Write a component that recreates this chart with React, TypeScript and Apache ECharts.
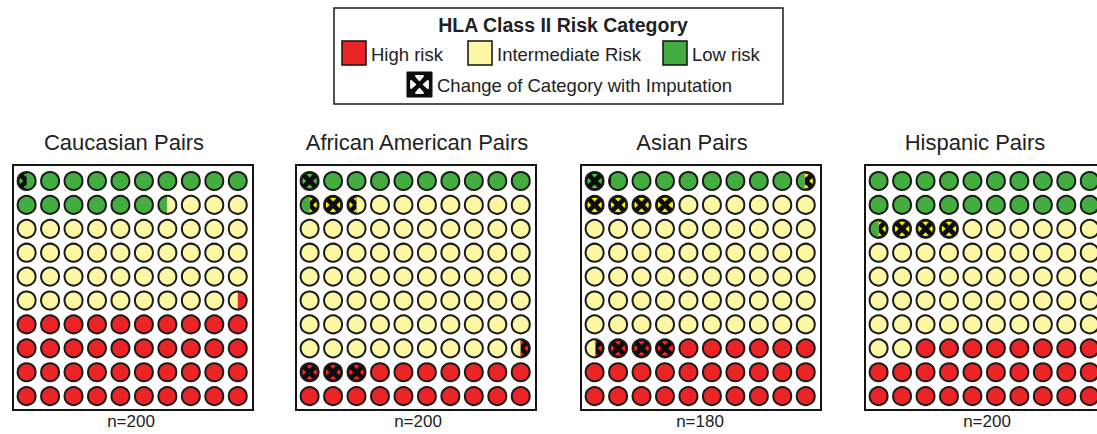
import { useEffect, useRef } from "react";
import * as echarts from "echarts";

// Risk category composition of donor–recipient pairs, one 10×10 waffle per group.
// Each circle stands for 1% of the pairs in that group.
const panelTitles = ["Caucasian Pairs", "African American Pairs", "Asian Pairs", "Hispanic Pairs"];
const pairTotals = [200, 200, 180, 200];
const lowRiskPairs = [33, 21, 17, 41];
const intermediateRiskPairs = [86, 138, 110, 103];
const highRiskPairs = [81, 41, 53, 56];
// Pairs whose category changed once imputation was applied
const lowChangedPairs = [1, 2, 2, 0];
const intermediateChangedPairs = [0, 4, 8, 7];
const highChangedPairs = [0, 7, 6, 0];

const legendTitle = "HLA Class II Risk Category";
const categoryNames = ["High risk", "Intermediate Risk", "Low risk"];
const changeLabel = "Change of Category with Imputation";

const GRID_COLS = 10;
const GRID_ROWS = 10;

// styling
const FONT = "'Liberation Sans', Arial, Helvetica, sans-serif";
const TEXT = "#222222";
const HIGH = "#ec2426";
const INTER = "#fbf7a2";
const LOW = "#44ad3f";
const HIGH_PATCH = "#ff2222";
const INTER_PATCH = "#f7ef00";
const LOW_PATCH = "#48c040";
const OUTLINE = "#1c1c1c";
const R = 9;

// layout
const panelLeft = [13, 296, 581, 865];
const panelTop = 165;
const panelWidth = 240;
const panelHeight = 245;
const titleX = [124, 417, 692, 975];
const countX = [131, 418, 700, 987];

type Pt = [number, number];

function circlePoints(r: number, n = 48): Pt[] {
  const pts: Pt[] = [];
  for (let k = 0; k < n; k++) {
    const a = (k / n) * Math.PI * 2;
    pts.push([r * Math.cos(a), r * Math.sin(a)]);
  }
  return pts;
}

function clipHalf(poly: Pt[], xb: number, keepGreater: boolean): Pt[] {
  const out: Pt[] = [];
  const inside = (p: Pt) => (keepGreater ? p[0] >= xb : p[0] <= xb);
  for (let k = 0; k < poly.length; k++) {
    const cur = poly[k];
    const prev = poly[(k + poly.length - 1) % poly.length];
    const ci = inside(cur);
    const pi = inside(prev);
    if (ci !== pi) {
      const t = (xb - prev[0]) / (cur[0] - prev[0]);
      out.push([xb, prev[1] + t * (cur[1] - prev[1])]);
    }
    if (ci) out.push(cur);
  }
  return out;
}

function clipX(poly: Pt[], x0: number, x1: number): Pt[] {
  return clipHalf(clipHalf(poly, x0, true), x1, false);
}

// four colour patches between the arms of an X, relative to the centre
function crossPatches(r: number): Pt[][] {
  const Rp = 0.8 * r;
  const d = 0.38 * r;
  const phi0 = Math.acos(d / (Rp * Math.SQRT2)) - Math.PI / 4;
  const top: Pt[] = [[0, -d]];
  const steps = 8;
  for (let s = 0; s <= steps; s++) {
    const phi = -phi0 + (2 * phi0 * s) / steps;
    top.push([Rp * Math.sin(phi), -Rp * Math.cos(phi)]);
  }
  const rot = (p: Pt, k: number): Pt => {
    let [x, y] = p;
    for (let i = 0; i < k; i++) [x, y] = [-y, x];
    return [x, y];
  };
  return [0, 1, 2, 3].map((k) => top.map((p) => rot(p, k)));
}

const CIRCLE = circlePoints(R);
const PATCHES = crossPatches(R);

function shift(poly: Pt[], cx: number, cy: number): Pt[] {
  return poly.map((p) => [p[0] + cx, p[1] + cy] as Pt);
}

function panelSegments(i: number) {
  const n = pairTotals[i];
  const pct = (v: number) => (v / n) * 100;
  const L = pct(lowRiskPairs[i]);
  const I = pct(intermediateRiskPairs[i]);
  const H = pct(highRiskPairs[i]);
  const base = [
    { from: 0, to: L, color: LOW },
    { from: L, to: L + I, color: INTER },
    { from: L + I, to: L + I + H, color: HIGH },
  ];
  const changed = [
    { from: 0, to: pct(lowChangedPairs[i]), color: LOW_PATCH },
    { from: L, to: L + pct(intermediateChangedPairs[i]), color: INTER_PATCH },
    { from: L + I, to: L + I + pct(highChangedPairs[i]), color: HIGH_PATCH },
  ];
  return { base, changed };
}

const cells: number[][] = [];
for (let row = 0; row < GRID_ROWS; row++) {
  for (let col = 0; col < GRID_COLS; col++) {
    cells.push([col, row, row * GRID_COLS + col]);
  }
}

function buildOption(): echarts.EChartsOption {
  const grids: any[] = [];
  const xAxes: any[] = [];
  const yAxes: any[] = [];
  const series: any[] = [];
  const graphics: any[] = [];

  panelTitles.forEach((title, i) => {
    grids.push({
      left: panelLeft[i],
      top: panelTop,
      width: panelWidth,
      height: panelHeight,
      show: true,
      borderColor: "#151515",
      borderWidth: 2,
      backgroundColor: "#ffffff",
      containLabel: false,
      outerBoundsMode: "none",
    });
    xAxes.push({ type: "value", gridIndex: i, min: -0.58, max: 9.65, show: false });
    yAxes.push({ type: "value", gridIndex: i, min: -0.67, max: 9.58, inverse: true, show: false });

    const { base, changed } = panelSegments(i);
    series.push({
      type: "custom",
      name: title,
      xAxisIndex: i,
      yAxisIndex: i,
      data: cells,
      silent: true,
      clip: false,
      renderItem: (_params: any, api: any) => {
        const col = api.value(0);
        const row = api.value(1);
        const idx = api.value(2);
        const [cx, cy] = api.coord([col, row]);
        const children: any[] = [];
        const strip = (from: number, to: number): [number, number] | null => {
          const a = Math.max(from, idx) - idx;
          const b = Math.min(to, idx + 1) - idx;
          if (b - a <= 1e-6) return null;
          return [-R + 2 * R * a, -R + 2 * R * b];
        };
        base.forEach((seg) => {
          const s = strip(seg.from, seg.to);
          if (!s) return;
          const poly = clipX(CIRCLE, s[0], s[1]);
          if (poly.length < 3) return;
          children.push({
            type: "polygon",
            shape: { points: shift(poly, cx, cy) },
            style: { fill: seg.color, stroke: null },
          });
        });
        changed.forEach((seg) => {
          const s = strip(seg.from, seg.to);
          if (!s) return;
          const poly = clipX(CIRCLE, s[0], s[1]);
          if (poly.length < 3) return;
          children.push({
            type: "polygon",
            shape: { points: shift(poly, cx, cy) },
            style: { fill: "#0d0d0d", stroke: null },
          });
          PATCHES.forEach((patch) => {
            const p = clipX(patch, s[0], s[1]);
            if (p.length < 3) return;
            children.push({
              type: "polygon",
              shape: { points: shift(p, cx, cy) },
              style: { fill: seg.color, stroke: null },
            });
          });
        });
        children.push({
          type: "circle",
          shape: { cx, cy, r: R },
          style: { fill: null, stroke: OUTLINE, lineWidth: 2 },
        });
        return { type: "group", children };
      },
    });

    graphics.push({
      type: "text",
      x: titleX[i],
      y: 142,
      style: {
        text: title,
        fill: TEXT,
        font: `22px ${FONT}`,
        align: "center",
        verticalAlign: "middle",
      },
    });
    graphics.push({
      type: "text",
      x: countX[i],
      y: 421,
      style: {
        text: `n=${pairTotals[i]}`,
        fill: TEXT,
        font: `17px ${FONT}`,
        align: "center",
        verticalAlign: "middle",
      },
    });
  });

  // legend box
  graphics.push({
    type: "rect",
    shape: { x: 334, y: 8, width: 449, height: 96 },
    style: { fill: "#ffffff", stroke: "#1a1a1a", lineWidth: 1.5 },
  });
  graphics.push({
    type: "text",
    x: 563,
    y: 25,
    style: {
      text: legendTitle,
      fill: TEXT,
      font: `bold 19.5px ${FONT}`,
      align: "center",
      verticalAlign: "middle",
    },
  });
  const swatchColors = [HIGH, INTER, LOW];
  const swatchX = [342, 468, 663];
  categoryNames.forEach((name, k) => {
    graphics.push({
      type: "rect",
      shape: { x: swatchX[k], y: 41, width: 24, height: 24 },
      style: { fill: swatchColors[k], stroke: "#111111", lineWidth: 1.5 },
    });
    graphics.push({
      type: "text",
      x: swatchX[k] + 29,
      y: 54,
      style: {
        text: name,
        fill: TEXT,
        font: `18.5px ${FONT}`,
        align: "left",
        verticalAlign: "middle",
      },
    });
  });
  // change-of-category icon
  const ix = 407;
  const iy = 72;
  const iw = 25;
  graphics.push({
    type: "rect",
    shape: { x: ix, y: iy, width: iw, height: iw },
    style: { fill: "#0d0d0d", stroke: "#0d0d0d", lineWidth: 1 },
  });
  const c = iw / 2;
  const iconPatch: Pt[] = [
    [-3.4, -8.4],
    [3.4, -8.4],
    [0, -4.4],
  ];
  for (let k = 0; k < 4; k++) {
    const pts = iconPatch.map((p) => {
      let [x, y] = p;
      for (let j = 0; j < k; j++) [x, y] = [-y, x];
      return [ix + c + x, iy + c + y];
    });
    graphics.push({
      type: "polygon",
      shape: { points: pts },
      style: { fill: "#ffffff", stroke: "#ffffff", lineWidth: 2, lineJoin: "round" },
    });
  }
  graphics.push({
    type: "text",
    x: 437,
    y: 85,
    style: {
      text: changeLabel,
      fill: TEXT,
      font: `18.5px ${FONT}`,
      align: "left",
      verticalAlign: "middle",
    },
  });

  return {
    animation: false,
    backgroundColor: "#ffffff",
    grid: grids,
    xAxis: xAxes,
    yAxis: yAxes,
    series,
    graphic: graphics,
  };
}

export default function App() {
  const ref = useRef<HTMLDivElement>(null);
  useEffect(() => {
    if (!ref.current) return;
    const chart = echarts.init(ref.current, undefined, { renderer: "svg" });
    chart.setOption(buildOption());
    return () => chart.dispose();
  }, []);
  return (
    <div
      ref={ref}
      style={{ position: "absolute", left: 0, top: 0, width: 1097, height: 434 }}
    />
  );
}
